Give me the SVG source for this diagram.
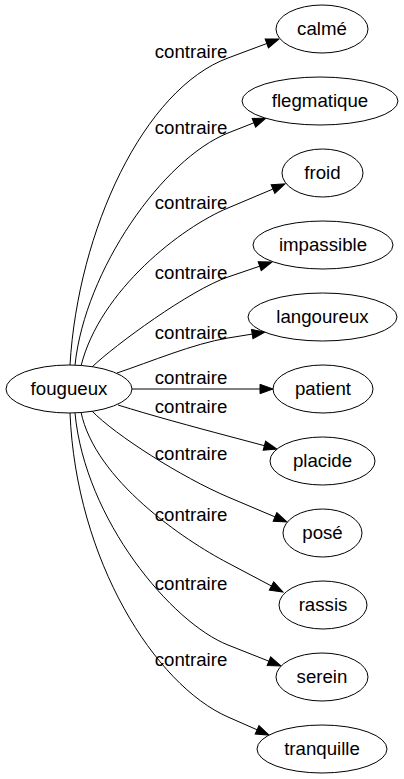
<svg xmlns="http://www.w3.org/2000/svg" width="404" height="779" viewBox="0 0 404 779">
<defs>
<style>
.node ellipse{fill:#fff;stroke:#000;stroke-width:1}
text{font-family:"Liberation Sans",Arial,sans-serif;font-size:18.67px;fill:#000}
.node text{text-anchor:middle}
.lbl{text-anchor:middle}
.edge{fill:none;stroke:#000;stroke-width:1;marker-end:url(#arr)}
</style>
<marker id="arr" markerUnits="userSpaceOnUse" markerWidth="16" markerHeight="12" refX="0" refY="6" orient="auto" viewBox="0 0 16 12" overflow="visible">
<path d="M0,1.3 L13,6 L0,10.7 z" fill="#000" stroke="#000" stroke-width="1"/>
</marker>
</defs>
<rect width="404" height="779" fill="#fff"/>
<g id="connectors">
<path class="edge" d="M70,365 C78,230 144,89 228,58 L266.8,43.5"/>
<path class="edge" d="M75,365 C85,270 163,159 228,133 L253.9,122.8"/>
<path class="edge" d="M81,366 C100,290 182,227 228,208 L273,189"/>
<path class="edge" d="M92,367 C115,345 190,290 228,277 L259.7,266.2"/>
<path class="edge" d="M117,373 C150,362 193.5,343.6 228,338 L252.2,334.1"/>
<path class="edge" d="M132,389 L260,389"/>
<path class="edge" d="M118,405 C150,415 194,427 228,436 L264.4,445.7"/>
<path class="edge" d="M92,411 C115,435 182,477.5 228,497 L275,516.9"/>
<path class="edge" d="M81,412 C95,480 184,540 228,563 L271.5,586"/>
<path class="edge" d="M75,413 C85,520 172,623 228,645 L268.9,661.2"/>
<path class="edge" d="M70,413 C76,560 155,685 228,717 L257.1,729.8"/>
<text class="lbl" x="191" y="58">contraire</text>
<text class="lbl" x="191" y="134">contraire</text>
<text class="lbl" x="191" y="209">contraire</text>
<text class="lbl" x="191" y="279">contraire</text>
<text class="lbl" x="191" y="339">contraire</text>
<text class="lbl" x="191" y="384">contraire</text>
<text class="lbl" x="191" y="413">contraire</text>
<text class="lbl" x="191" y="460">contraire</text>
<text class="lbl" x="191" y="521">contraire</text>
<text class="lbl" x="191" y="590">contraire</text>
<text class="lbl" x="191" y="666">contraire</text>
</g>
<g id="fougueux" class="node"><ellipse cx="69" cy="389" rx="63" ry="24"/><text x="69" y="395">fougueux</text></g>
<g id="calme" class="node"><ellipse cx="322" cy="29" rx="46" ry="24"/><text x="322" y="35">calmé</text></g>
<g id="flegmatique" class="node"><ellipse cx="320" cy="101" rx="78" ry="24"/><text x="320" y="107">flegmatique</text></g>
<g id="froid" class="node"><ellipse cx="322.5" cy="173" rx="40.5" ry="24"/><text x="322.5" y="179">froid</text></g>
<g id="impassible" class="node"><ellipse cx="323" cy="245" rx="70" ry="24"/><text x="323" y="251">impassible</text></g>
<g id="langoureux" class="node"><ellipse cx="322.5" cy="317" rx="74.5" ry="24"/><text x="322.5" y="323">langoureux</text></g>
<g id="patient" class="node"><ellipse cx="323" cy="389" rx="50" ry="24"/><text x="323" y="395">patient</text></g>
<g id="placide" class="node"><ellipse cx="322.5" cy="461" rx="52.5" ry="24"/><text x="322.5" y="467">placide</text></g>
<g id="pose" class="node"><ellipse cx="322.5" cy="533" rx="39.5" ry="24"/><text x="322.5" y="539">posé</text></g>
<g id="rassis" class="node"><ellipse cx="323" cy="605" rx="44" ry="24"/><text x="323" y="611">rassis</text></g>
<g id="serein" class="node"><ellipse cx="322" cy="677" rx="46" ry="24"/><text x="322" y="683">serein</text></g>
<g id="tranquille" class="node"><ellipse cx="322" cy="749" rx="65" ry="24"/><text x="322" y="755">tranquille</text></g>
</svg>
